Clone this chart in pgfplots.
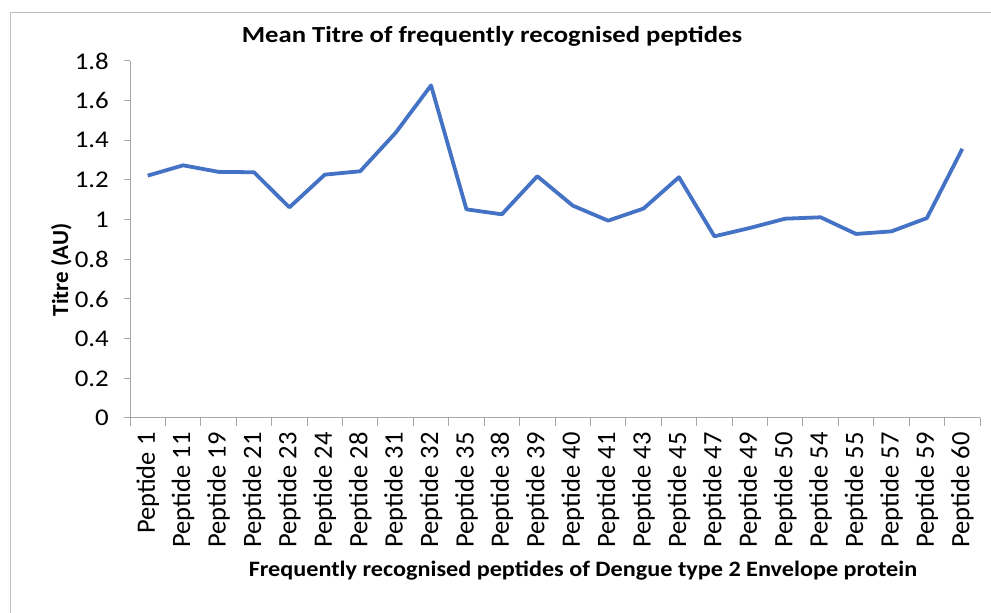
\documentclass[border=0pt]{standalone}
\usepackage{fontspec}
\setmainfont{Carlito}
\usepackage{pgfplots}
\pgfplotsset{compat=1.18}
\definecolor{lineblue}{HTML}{4472C4}
\definecolor{axgray}{HTML}{A6A6A6}
\definecolor{framegray}{HTML}{BFBFBF}
\begin{document}
\begin{tikzpicture}[x=1pt,y=1pt]
\useasboundingbox (0,0) rectangle (991,613);
\draw[framegray, line width=1pt] (10,0) -- (10,600) -- (991,600);
\begin{axis}[
    at={(130pt,195pt)}, anchor=south west,
    width=850pt, height=357pt, scale only axis,
    xmin=-0.5, xmax=23.5,
    ymin=0, ymax=1.8,
    axis lines*=left,
    axis line style={axgray, line width=1pt},
    xtick={0,...,23},
    xticklabels={Peptide 1,Peptide 11,Peptide 19,Peptide 21,Peptide 23,Peptide 24,Peptide 28,Peptide 31,Peptide 32,Peptide 35,Peptide 38,Peptide 39,Peptide 40,Peptide 41,Peptide 43,Peptide 45,Peptide 47,Peptide 49,Peptide 50,Peptide 54,Peptide 55,Peptide 57,Peptide 59,Peptide 60},
    major x tick style={draw=none},
    minor xtick={-0.5,0.5,...,23.5},
    minor x tick style={axgray, line width=1pt},
    minor tick length=8pt,
    ytick={0,0.2,0.4,0.6,0.8,1,1.2,1.4,1.6,1.8},
    yticklabels={0,0.2,0.4,0.6,0.8,1,1.2,1.4,1.6,1.8},
    major y tick style={axgray, line width=1pt},
    major tick length=6pt,
    tick align=outside,
    xticklabel shift=5pt,
    xticklabel style={rotate=90, anchor=east, font=\fontsize{26.5}{30}\selectfont},
    yticklabel style={font=\fontsize{24}{28}\selectfont, xscale=1.12, xshift=-10pt},
    /pgf/number format/assume math mode=true,
    clip=false,
]
\addplot[lineblue, line width=3.8pt, line join=round] coordinates {
    (0,1.222) (1,1.274) (2,1.241) (3,1.239) (4,1.062) (5,1.227)
    (6,1.244) (7,1.438) (8,1.677) (9,1.052) (10,1.027) (11,1.219)
    (12,1.071) (13,0.995) (14,1.056) (15,1.214) (16,0.916) (17,0.958)
    (18,1.005) (19,1.012) (20,0.928) (21,0.941) (22,1.008) (23,1.357)
};
\end{axis}
\node[font=\fontsize{23}{27}\selectfont\bfseries, anchor=base, xscale=1.16] at (492,570) {Mean Titre of frequently recognised peptides};
\node[font=\fontsize{22}{26}\selectfont\bfseries, anchor=base, xscale=1.1] at (583,36.5) {Frequently recognised peptides of Dengue type 2 Envelope protein};
\node[font=\fontsize{23}{27}\selectfont\bfseries, rotate=90, anchor=base] at (68,343) {Titre (AU)};
\end{tikzpicture}
\end{document}
